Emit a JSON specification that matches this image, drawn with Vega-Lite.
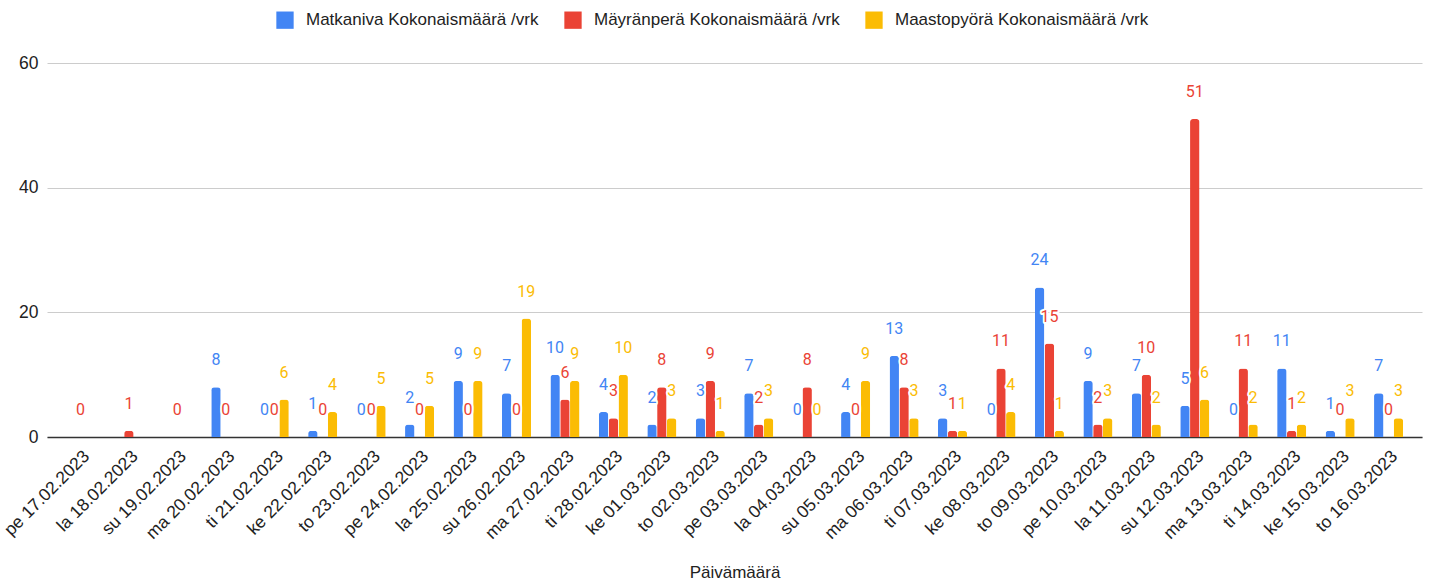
{
  "$schema": "https://vega.github.io/schema/vega-lite/v6.json",
  "autosize": {"type": "none"},
  "width": 1375,
  "height": 374,
  "padding": {"left": 47, "top": 63, "right": 9, "bottom": 145},
  "background": "white",
  "data": {
    "values": [
      {"date": "pe 17.02.2023", "series": "Mäyränperä Kokonaismäärä /vrk", "value": 0},
      {"date": "la 18.02.2023", "series": "Mäyränperä Kokonaismäärä /vrk", "value": 1},
      {"date": "su 19.02.2023", "series": "Mäyränperä Kokonaismäärä /vrk", "value": 0},
      {"date": "ma 20.02.2023", "series": "Matkaniva Kokonaismäärä /vrk", "value": 8},
      {"date": "ma 20.02.2023", "series": "Mäyränperä Kokonaismäärä /vrk", "value": 0},
      {"date": "ti 21.02.2023", "series": "Matkaniva Kokonaismäärä /vrk", "value": 0},
      {"date": "ti 21.02.2023", "series": "Mäyränperä Kokonaismäärä /vrk", "value": 0},
      {"date": "ti 21.02.2023", "series": "Maastopyörä Kokonaismäärä /vrk", "value": 6},
      {"date": "ke 22.02.2023", "series": "Matkaniva Kokonaismäärä /vrk", "value": 1},
      {"date": "ke 22.02.2023", "series": "Mäyränperä Kokonaismäärä /vrk", "value": 0},
      {"date": "ke 22.02.2023", "series": "Maastopyörä Kokonaismäärä /vrk", "value": 4},
      {"date": "to 23.02.2023", "series": "Matkaniva Kokonaismäärä /vrk", "value": 0},
      {"date": "to 23.02.2023", "series": "Mäyränperä Kokonaismäärä /vrk", "value": 0},
      {"date": "to 23.02.2023", "series": "Maastopyörä Kokonaismäärä /vrk", "value": 5},
      {"date": "pe 24.02.2023", "series": "Matkaniva Kokonaismäärä /vrk", "value": 2},
      {"date": "pe 24.02.2023", "series": "Mäyränperä Kokonaismäärä /vrk", "value": 0},
      {"date": "pe 24.02.2023", "series": "Maastopyörä Kokonaismäärä /vrk", "value": 5},
      {"date": "la 25.02.2023", "series": "Matkaniva Kokonaismäärä /vrk", "value": 9},
      {"date": "la 25.02.2023", "series": "Mäyränperä Kokonaismäärä /vrk", "value": 0},
      {"date": "la 25.02.2023", "series": "Maastopyörä Kokonaismäärä /vrk", "value": 9},
      {"date": "su 26.02.2023", "series": "Matkaniva Kokonaismäärä /vrk", "value": 7},
      {"date": "su 26.02.2023", "series": "Mäyränperä Kokonaismäärä /vrk", "value": 0},
      {"date": "su 26.02.2023", "series": "Maastopyörä Kokonaismäärä /vrk", "value": 19},
      {"date": "ma 27.02.2023", "series": "Matkaniva Kokonaismäärä /vrk", "value": 10},
      {"date": "ma 27.02.2023", "series": "Mäyränperä Kokonaismäärä /vrk", "value": 6},
      {"date": "ma 27.02.2023", "series": "Maastopyörä Kokonaismäärä /vrk", "value": 9},
      {"date": "ti 28.02.2023", "series": "Matkaniva Kokonaismäärä /vrk", "value": 4},
      {"date": "ti 28.02.2023", "series": "Mäyränperä Kokonaismäärä /vrk", "value": 3},
      {"date": "ti 28.02.2023", "series": "Maastopyörä Kokonaismäärä /vrk", "value": 10},
      {"date": "ke 01.03.2023", "series": "Matkaniva Kokonaismäärä /vrk", "value": 2},
      {"date": "ke 01.03.2023", "series": "Mäyränperä Kokonaismäärä /vrk", "value": 8},
      {"date": "ke 01.03.2023", "series": "Maastopyörä Kokonaismäärä /vrk", "value": 3},
      {"date": "to 02.03.2023", "series": "Matkaniva Kokonaismäärä /vrk", "value": 3},
      {"date": "to 02.03.2023", "series": "Mäyränperä Kokonaismäärä /vrk", "value": 9},
      {"date": "to 02.03.2023", "series": "Maastopyörä Kokonaismäärä /vrk", "value": 1},
      {"date": "pe 03.03.2023", "series": "Matkaniva Kokonaismäärä /vrk", "value": 7},
      {"date": "pe 03.03.2023", "series": "Mäyränperä Kokonaismäärä /vrk", "value": 2},
      {"date": "pe 03.03.2023", "series": "Maastopyörä Kokonaismäärä /vrk", "value": 3},
      {"date": "la 04.03.2023", "series": "Matkaniva Kokonaismäärä /vrk", "value": 0},
      {"date": "la 04.03.2023", "series": "Mäyränperä Kokonaismäärä /vrk", "value": 8},
      {"date": "la 04.03.2023", "series": "Maastopyörä Kokonaismäärä /vrk", "value": 0},
      {"date": "su 05.03.2023", "series": "Matkaniva Kokonaismäärä /vrk", "value": 4},
      {"date": "su 05.03.2023", "series": "Mäyränperä Kokonaismäärä /vrk", "value": 0},
      {"date": "su 05.03.2023", "series": "Maastopyörä Kokonaismäärä /vrk", "value": 9},
      {"date": "ma 06.03.2023", "series": "Matkaniva Kokonaismäärä /vrk", "value": 13},
      {"date": "ma 06.03.2023", "series": "Mäyränperä Kokonaismäärä /vrk", "value": 8},
      {"date": "ma 06.03.2023", "series": "Maastopyörä Kokonaismäärä /vrk", "value": 3},
      {"date": "ti 07.03.2023", "series": "Matkaniva Kokonaismäärä /vrk", "value": 3},
      {"date": "ti 07.03.2023", "series": "Mäyränperä Kokonaismäärä /vrk", "value": 1},
      {"date": "ti 07.03.2023", "series": "Maastopyörä Kokonaismäärä /vrk", "value": 1},
      {"date": "ke 08.03.2023", "series": "Matkaniva Kokonaismäärä /vrk", "value": 0},
      {"date": "ke 08.03.2023", "series": "Mäyränperä Kokonaismäärä /vrk", "value": 11},
      {"date": "ke 08.03.2023", "series": "Maastopyörä Kokonaismäärä /vrk", "value": 4},
      {"date": "to 09.03.2023", "series": "Matkaniva Kokonaismäärä /vrk", "value": 24},
      {"date": "to 09.03.2023", "series": "Mäyränperä Kokonaismäärä /vrk", "value": 15},
      {"date": "to 09.03.2023", "series": "Maastopyörä Kokonaismäärä /vrk", "value": 1},
      {"date": "pe 10.03.2023", "series": "Matkaniva Kokonaismäärä /vrk", "value": 9},
      {"date": "pe 10.03.2023", "series": "Mäyränperä Kokonaismäärä /vrk", "value": 2},
      {"date": "pe 10.03.2023", "series": "Maastopyörä Kokonaismäärä /vrk", "value": 3},
      {"date": "la 11.03.2023", "series": "Matkaniva Kokonaismäärä /vrk", "value": 7},
      {"date": "la 11.03.2023", "series": "Mäyränperä Kokonaismäärä /vrk", "value": 10},
      {"date": "la 11.03.2023", "series": "Maastopyörä Kokonaismäärä /vrk", "value": 2},
      {"date": "su 12.03.2023", "series": "Matkaniva Kokonaismäärä /vrk", "value": 5},
      {"date": "su 12.03.2023", "series": "Mäyränperä Kokonaismäärä /vrk", "value": 51},
      {"date": "su 12.03.2023", "series": "Maastopyörä Kokonaismäärä /vrk", "value": 6},
      {"date": "ma 13.03.2023", "series": "Matkaniva Kokonaismäärä /vrk", "value": 0},
      {"date": "ma 13.03.2023", "series": "Mäyränperä Kokonaismäärä /vrk", "value": 11},
      {"date": "ma 13.03.2023", "series": "Maastopyörä Kokonaismäärä /vrk", "value": 2},
      {"date": "ti 14.03.2023", "series": "Matkaniva Kokonaismäärä /vrk", "value": 11},
      {"date": "ti 14.03.2023", "series": "Mäyränperä Kokonaismäärä /vrk", "value": 1},
      {"date": "ti 14.03.2023", "series": "Maastopyörä Kokonaismäärä /vrk", "value": 2},
      {"date": "ke 15.03.2023", "series": "Matkaniva Kokonaismäärä /vrk", "value": 1},
      {"date": "ke 15.03.2023", "series": "Mäyränperä Kokonaismäärä /vrk", "value": 0},
      {"date": "ke 15.03.2023", "series": "Maastopyörä Kokonaismäärä /vrk", "value": 3},
      {"date": "to 16.03.2023", "series": "Matkaniva Kokonaismäärä /vrk", "value": 7},
      {"date": "to 16.03.2023", "series": "Mäyränperä Kokonaismäärä /vrk", "value": 0},
      {"date": "to 16.03.2023", "series": "Maastopyörä Kokonaismäärä /vrk", "value": 3}
    ]
  },
  "encoding": {
    "x": {
      "field": "date", "type": "nominal", "sort": null,
      "scale": {"paddingInner": 0.4, "paddingOuter": 0.39},
      "axis": {
        "title": "Päivämäärä", "labelAngle": -45, "labelFont": "Liberation Sans", "labelFontSize": 17.5,
        "labelColor": "#222222", "ticks": false, "domainColor": "#333333", "domainWidth": 1.5,
        "labelPadding": 10, "titleFont": "Liberation Sans", "titleFontSize": 17, "titleFontWeight": "normal",
        "titleColor": "#222222", "titlePadding": 23
      }
    },
    "xOffset": {
      "field": "series", "type": "nominal",
      "sort": ["Matkaniva Kokonaismäärä /vrk", "Mäyränperä Kokonaismäärä /vrk", "Maastopyörä Kokonaismäärä /vrk"],
      "scale": {"paddingInner": 0.04, "paddingOuter": 0}
    },
    "y": {
      "field": "value", "type": "quantitative",
      "scale": {"domain": [0, 60], "nice": false},
      "axis": {
        "title": null, "values": [0, 20, 40, 60], "domain": false, "ticks": false,
        "gridColor": "#cccccc", "gridWidth": 1, "labelFont": "Liberation Sans", "labelFontSize": 17.5,
        "labelColor": "#222222", "labelPadding": 9
      }
    }
  },
  "layer": [
    {
      "mark": {"type": "bar", "cornerRadiusEnd": 3},
      "encoding": {
        "color": {
          "field": "series", "type": "nominal",
          "sort": ["Matkaniva Kokonaismäärä /vrk", "Mäyränperä Kokonaismäärä /vrk", "Maastopyörä Kokonaismäärä /vrk"],
          "scale": {
            "domain": ["Matkaniva Kokonaismäärä /vrk", "Mäyränperä Kokonaismäärä /vrk", "Maastopyörä Kokonaismäärä /vrk"],
            "range": ["#4285F4", "#EA4335", "#FBBC04"]
          },
          "legend": {
            "title": null, "orient": "none", "direction": "horizontal", "legendX": 229, "legendY": -52,
            "symbolType": "square", "symbolSize": 300, "symbolStrokeWidth": 0, "labelFont": "Liberation Sans",
            "labelFontSize": 17, "labelLimit": 0, "labelColor": "#222222", "labelOffset": 12, "columnPadding": 25, "padding": 0
          }
        }
      }
    },
    {
      "mark": {"type": "text", "baseline": "middle", "dy": -27, "font": "Roboto", "fontSize": 16,
               "fill": "white", "stroke": "white", "strokeWidth": 4, "strokeJoin": "round"},
      "encoding": {"text": {"field": "value", "type": "quantitative"}}
    },
    {
      "mark": {"type": "text", "baseline": "middle", "dy": -27, "font": "Roboto", "fontSize": 16},
      "encoding": {
        "text": {"field": "value", "type": "quantitative"},
        "color": {"field": "series", "type": "nominal"}
      }
    }
  ],
  "config": {"view": {"stroke": null}}
}
